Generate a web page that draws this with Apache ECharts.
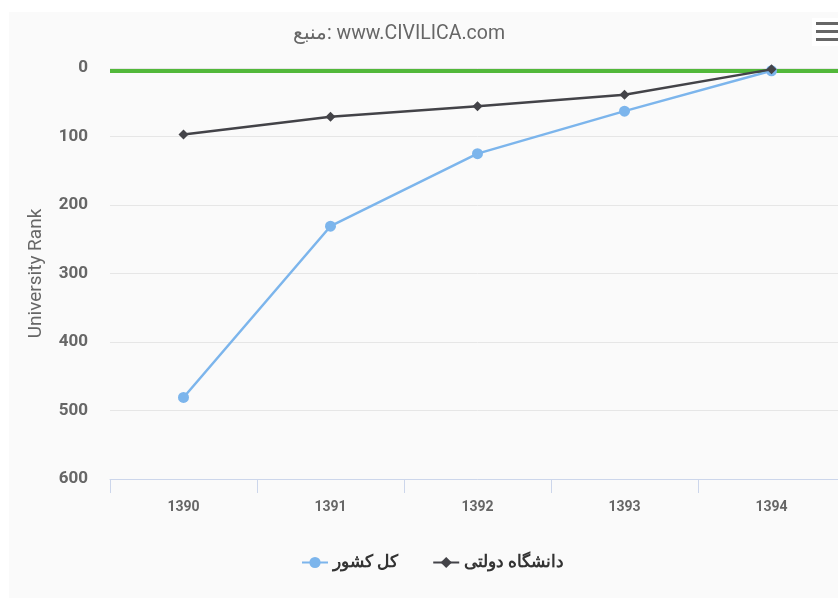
<!DOCTYPE html>
<html><head><meta charset="utf-8">
<script src="https://cdn.jsdelivr.net/npm/echarts@6/dist/echarts.min.js"></script>
<style>
html,body{margin:0;padding:0;background:#fff;width:838px;height:598px;overflow:hidden;position:relative;}
#c{position:absolute;left:9px;top:12px;width:836px;height:586px;}
</style></head>
<body><div id="c"></div>
<script>
const categories = ['1390','1391','1392','1393','1394'];
const countryName = 'کل کشور';
const countryRank = [481, 231, 125, 63, 4];
const stateName = 'دانشگاه دولتی';
const stateRank = [97, 71, 56, 39, 2];
const titleText = 'منبع: www.CIVILICA.com';
const yAxisName = 'University Rank';
const referenceLines = [-3.5, 3.5];

const chart = echarts.init(document.getElementById('c'), null, {renderer:'canvas'});
const font = 'Roboto, "Noto Sans", sans-serif';
chart.setOption({
  backgroundColor: '#fafafa',
  animation: false,
  title: {
    text: titleText, left: 279, top: 7,
    textStyle: {color:'#666', fontSize: 19.5, fontWeight: 'normal', fontFamily: font}
  },
  legend: {
    bottom: 22, left: 287, itemGap: 34, itemWidth: 26, itemHeight: 14,
    textStyle: {color:'#333', fontSize: 17, fontWeight: 'bold', fontFamily: font},
    data: [countryName, stateName]
  },
  grid: {left: 101, right: 0, top: 56, bottom: 119, containLabel: false},
  xAxis: {
    type: 'category', data: categories, boundaryGap: true, position: 'bottom',
    axisLine: {onZero: false, lineStyle: {color:'#ccd6eb', width: 1}},
    axisTick: {show: true, length: 14, lineStyle: {color:'#ccd6eb'}},
    axisLabel: {color:'#666', fontSize: 14, fontWeight: 'bold', margin: 21, fontFamily: font},
    splitLine: {show: false}
  },
  yAxis: {
    type: 'value', inverse: true, min: 0, max: 600, interval: 100,
    name: yAxisName, nameLocation: 'middle', nameGap: 64, nameRotate: 90,
    nameTextStyle: {color:'#666', fontSize: 19, fontFamily: font},
    axisLine: {show: false}, axisTick: {show: false},
    axisLabel: {color:'#666', fontSize: 17, fontWeight: 'bold', margin: 22, fontFamily: font},
    splitLine: {lineStyle: {color:'#e6e6e6', width: 1}}
  },
  series: [
    {
      name: countryName, type: 'line', data: countryRank,
      symbol: 'circle', symbolSize: 11, clip: false,
      lineStyle: {color:'#7cb5ec', width: 2.5},
      itemStyle: {color:'#7cb5ec'},
      z: 3
    },
    {
      name: stateName, type: 'line', data: stateRank,
      symbol: 'diamond', symbolSize: 10, clip: false,
      lineStyle: {color:'#434348', width: 2.5},
      itemStyle: {color:'#434348'},
      z: 4,
      markLine: {
        silent: true, symbol: 'none', label: {show: false}, z: 1,
        data: [
          {yAxis: referenceLines[0], lineStyle: {color:'#7fcc66', width: 1.6, type:'solid'}},
          {yAxis: referenceLines[1], lineStyle: {color:'#52b83a', width: 4, type:'solid'}}
        ]
      }
    }
  ],
  graphic: [
    {type:'rect', right: 7, top: 6, shape:{width: 26, height: 28}, style:{fill:'#ffffff'}},
    {type:'rect', right: 7, top: 10, shape:{width: 22, height: 3}, style:{fill:'#666'}},
    {type:'rect', right: 7, top: 18, shape:{width: 22, height: 3}, style:{fill:'#666'}},
    {type:'rect', right: 7, top: 26, shape:{width: 22, height: 3}, style:{fill:'#666'}}
  ]
});
</script>
</body></html>
